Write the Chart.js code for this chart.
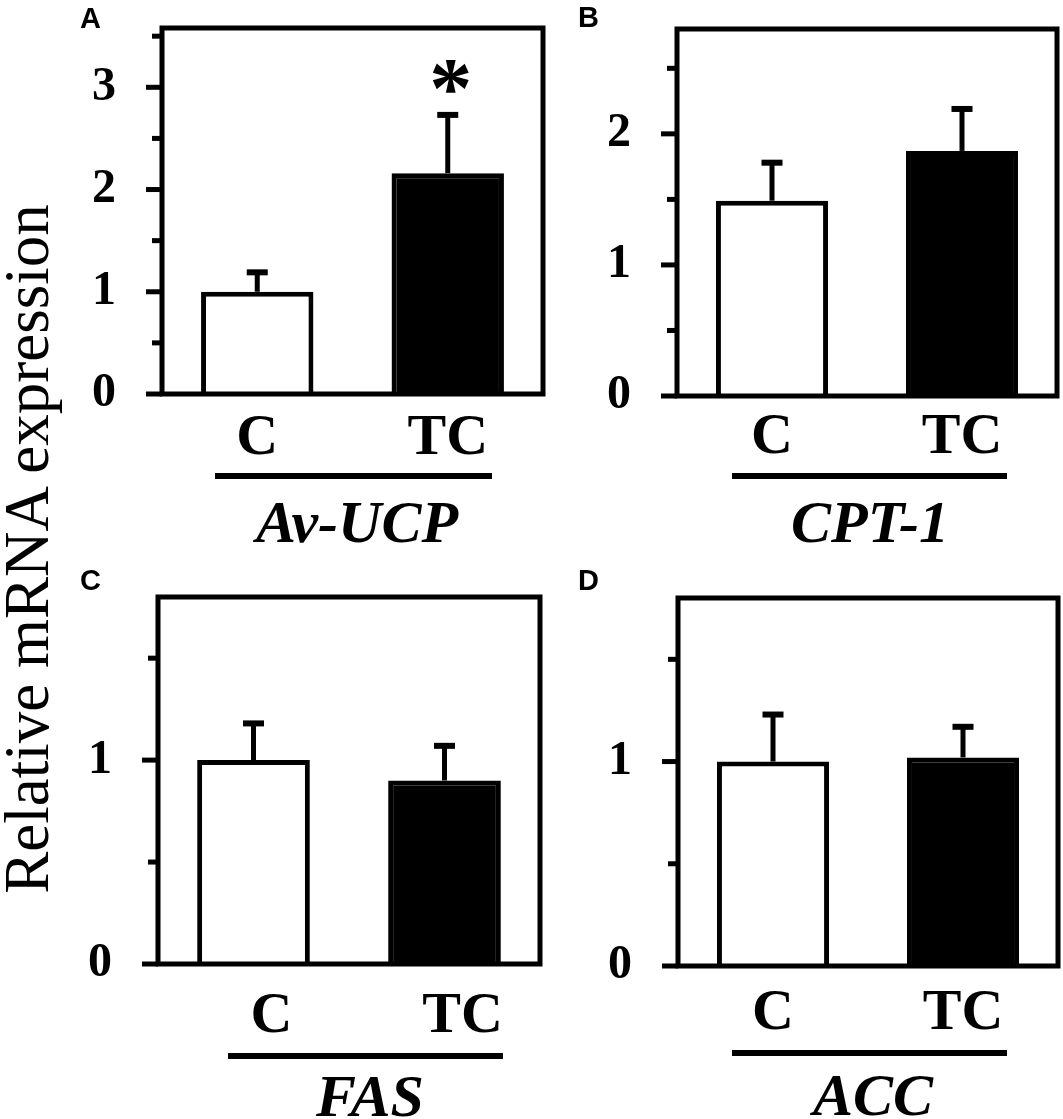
<!DOCTYPE html>
<html>
<head>
<meta charset="utf-8">
<script src="https://cdn.jsdelivr.net/npm/chart.js@4.4.1/dist/chart.umd.min.js"></script>
<style>
  html, body { margin: 0; padding: 0; background: #fff; }
  body { width: 1063px; height: 1119px; position: relative; overflow: hidden; }
  .box { position: absolute; }
  .letter { position: absolute; z-index: 2; font-family: "Liberation Sans", Arial, sans-serif; font-weight: bold; font-size: 29px; line-height: 1; color: #000; }
  .gene { position: absolute; width: 300px; text-align: center; font: italic bold 60px "Liberation Serif", serif; line-height: 1; color: #000; white-space: nowrap; }
  .rule { position: absolute; height: 6px; background: #000; }
  #ytitle {
    position: absolute; left: 27px; top: 549px;
    transform: translate(-50%, -50%) rotate(-90deg);
    font: 63px "Liberation Serif", serif; line-height: 1; white-space: nowrap; color: #000;
  }
</style>
</head>
<body>

<div id="ytitle">Relative mRNA expression</div>

<div class="box" id="boxA"><canvas id="chartA"></canvas></div>
<div class="box" id="boxB"><canvas id="chartB"></canvas></div>
<div class="box" id="boxC"><canvas id="chartC"></canvas></div>
<div class="box" id="boxD"><canvas id="chartD"></canvas></div>

<div class="letter" style="left:80px; top:4px;">A</div>
<div class="letter" style="left:578px; top:3px;">B</div>
<div class="letter" style="left:80px; top:566px;">C</div>
<div class="letter" style="left:578px; top:566px;">D</div>

<div class="rule" style="left:215px; width:277px; top:473px;"></div>
<div class="rule" style="left:732px; width:275px; top:473px;"></div>
<div class="rule" style="left:228px; width:275px; top:1053px;"></div>
<div class="rule" style="left:732px; width:275px; top:1050px;"></div>

<div class="gene" style="left:207px; top:492px;">Av-UCP</div>
<div class="gene" style="left:720px; top:492px;">CPT-1</div>
<div class="gene" style="left:220px; top:1066px;">FAS</div>
<div class="gene" style="left:723px; top:1065px;">ACC</div>

<script>
// groups and gene values (mean and SE)
const groups = ['C', 'TC'];

const avUcpMean = [1.00, 2.16];
const avUcpErr = [0.19, 0.57];
const cpt1Mean = [1.49, 1.87];
const cpt1Err = [0.29, 0.32];
const fasMean = [1.00, 0.90];
const fasErr = [0.18, 0.17];
const accMean = [1.00, 1.02];
const accErr = [0.23, 0.15];

const yMax = [3.58, 2.8, 1.8, 1.8];
const yStep = 0.5;

const serif = '"Liberation Serif", "Times New Roman", serif';

// frame, tick marks, error bars and the significance star
const panelDecor = {
  id: 'panelDecor',
  afterDatasetsDraw(chart, args, opts) {
    const ctx = chart.ctx;
    const a = chart.chartArea;
    const y = chart.scales.y;
    const meta = chart.getDatasetMeta(0);
    ctx.save();
    ctx.strokeStyle = '#000';
    ctx.fillStyle = '#000';

    opts.errors.forEach((e, i) => {
      const bar = meta.data[i];
      const top = y.getPixelForValue(opts.means[i] + e);
      ctx.lineWidth = 5;
      ctx.beginPath();
      ctx.moveTo(bar.x, bar.y);
      ctx.lineTo(bar.x, top);
      ctx.stroke();
      ctx.fillRect(bar.x - 10.5, top - 3, 21, 6);
      if (opts.star === i) {
        ctx.font = 'bold 86px ' + serif;
        ctx.textAlign = 'center';
        ctx.textBaseline = 'alphabetic';
        ctx.fillText('*', bar.x + 3, top + 2);
      }
    });

    ctx.lineWidth = 5;
    ctx.lineJoin = 'miter';
    ctx.strokeRect(a.left, a.top, a.right - a.left, a.bottom - a.top);

    y.ticks.forEach(t => {
      const py = y.getPixelForValue(t.value);
      const len = Number.isInteger(t.value) ? 16 : 10;
      ctx.fillRect(a.left - len, py - 2.5, len, 5);
    });
    ctx.restore();
  }
};

function makePanel(id, box, area, means, errs, max, labelPad, labelOffset, star) {
  const holder = document.getElementById('box' + id);
  holder.style.left = box.left + 'px';
  holder.style.top = box.top + 'px';
  holder.style.width = box.width + 'px';
  holder.style.height = box.height + 'px';

  return new Chart(document.getElementById('chart' + id), {
    type: 'bar',
    data: {
      labels: groups,
      datasets: [{
        data: means,
        backgroundColor: ['#ffffff', '#000000'],
        borderColor: '#000000',
        borderWidth: 5,
        borderSkipped: 'start',
        barPercentage: 0.59,
        categoryPercentage: 1.0
      }]
    },
    options: {
      responsive: true,
      maintainAspectRatio: false,
      animation: false,
      layout: {
        padding: {
          top: area.top - box.top,
          right: box.left + box.width - area.right,
          left: 0,
          bottom: 0
        }
      },
      plugins: {
        legend: { display: false },
        title: { display: false },
        tooltip: { enabled: false },
        panelDecor: { means: means, errors: errs, star: star }
      },
      scales: {
        x: {
          grid: { display: false, drawTicks: false },
          border: { display: false },
          ticks: {
            padding: labelPad,
            labelOffset: labelOffset,
            maxRotation: 0,
            color: '#000',
            font: { family: serif, size: 58, weight: 'bold' }
          },
          afterFit: s => {
            s.height = box.top + box.height - area.bottom;
            s.paddingLeft = 0;
            s.paddingRight = 0;
          }
        },
        y: {
          min: 0,
          max: max,
          grid: { display: false, drawTicks: false },
          border: { display: false },
          ticks: {
            stepSize: yStep,
            includeBounds: false,
            autoSkip: false,
            padding: 46,
            color: '#000',
            font: { family: serif, size: 48, weight: 'bold' },
            callback: v => Number.isInteger(v) ? String(v) : ''
          },
          afterFit: s => {
            s.width = area.left - box.left;
            s.paddingTop = 0;
            s.paddingBottom = 0;
          }
        }
      }
    },
    plugins: [panelDecor]
  });
}

makePanel('A', { left: 60, top: 0, width: 500, height: 500 },
  { left: 162, top: 28, right: 543, bottom: 394 }, avUcpMean, avUcpErr, yMax[0], 10, 0, 1);
makePanel('B', { left: 580, top: 0, width: 483, height: 500 },
  { left: 677, top: 29, right: 1057, bottom: 396 }, cpt1Mean, cpt1Err, yMax[1], 7, 0, null);
makePanel('C', { left: 60, top: 570, width: 500, height: 540 },
  { left: 158, top: 597, right: 540, bottom: 964 }, fasMean, fasErr, yMax[2], 18, 18, null);
makePanel('D', { left: 580, top: 570, width: 483, height: 540 },
  { left: 678, top: 598, right: 1058, bottom: 966 }, accMean, accErr, yMax[3], 13, 0, null);
</script>
</body>
</html>
